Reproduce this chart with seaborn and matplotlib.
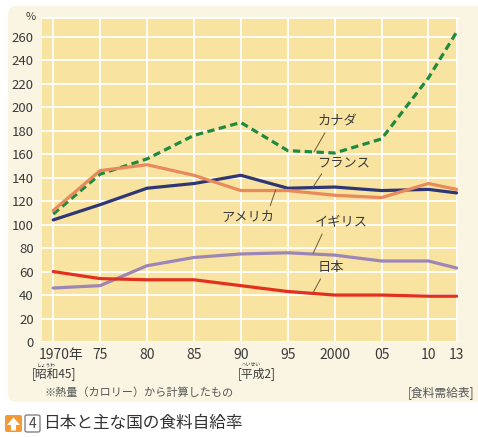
import pandas as pd
import matplotlib.pyplot as plt
import matplotlib.transforms as mtransforms
import seaborn as sns
from matplotlib.patches import FancyBboxPatch, Polygon

#data
years = [1970, 1975, 1980, 1985, 1990, 1995, 2000, 2005, 2010, 2013]
tick_labels = ['1970年', '75', '80', '85', '90', '95', '2000', '05', '10', '13']
canada = [109, 143, 156, 176, 187, 163, 161, 173, 225, 264]
france = [104, 117, 131, 135, 142, 131, 132, 129, 130, 127]
usa = [112, 146, 151, 142, 129, 129, 125, 123, 135, 130]
uk = [46, 48, 65, 72, 75, 76, 74, 69, 69, 63]
japan = [60, 54, 53, 53, 48, 43, 40, 40, 39, 39]
countries = ['カナダ', 'フランス', 'アメリカ', 'イギリス', '日本']
series = [canada, france, usa, uk, japan]

df = pd.DataFrame({
    'year': years * len(countries),
    'value': sum(series, []),
    'country': [c for c in countries for _ in years],
})

palette = {'カナダ': '#1f8a3e', 'フランス': '#2e3676', 'アメリカ': '#e98a5c',
           'イギリス': '#9c86b8', '日本': '#e2301f'}
dashes = {'カナダ': (2.3, 1.4), 'フランス': '', 'アメリカ': '',
          'イギリス': '', '日本': ''}

#style
sns.set_style('white', {'axes.facecolor': '#f8e3a0'})
plt.rcParams['font.family'] = ['Noto Sans CJK JP', 'DejaVu Sans']
text_col = '#3a3a3a'

W, H = 478, 437
fig = plt.figure(figsize=(W / 100, H / 100), dpi=100, facecolor='white')


def fx(px):
    return px / W


def fy(py):
    return 1 - py / H


#cream panel
panel = FancyBboxPatch((fx(8), fy(402)), 1.0, fy(6) - fy(402),
                       boxstyle='round,pad=0,rounding_size=0.02',
                       transform=fig.transFigure, facecolor='#faf5e3',
                       edgecolor='none', zorder=0)
fig.add_artist(panel)

ax = fig.add_axes([fx(42), fy(342), fx(458) - fx(42), fy(18) - fy(342)])
ax.set_axisbelow(True)

sns.lineplot(data=df, x='year', y='value', hue='country', style='country',
             hue_order=countries, style_order=countries, palette=palette,
             dashes=dashes, linewidth=2.3, legend=False, ax=ax)

ax.set_xlim(1968.8, 2013.15)
ax.set_ylim(0, 276)
ax.set_xticks(years, tick_labels)
ax.set_yticks(range(0, 261, 20))
ax.grid(True, color='white', linewidth=1.3)
for name, s in ax.spines.items():
    s.set_visible(name == 'top')
ax.spines['top'].set_color('white')
ax.spines['top'].set_linewidth(1.3)
ax.set_xlabel('')
ax.set_ylabel('')
ax.tick_params(axis='x', length=2.5, width=2.4, color='#222222', direction='inout',
               pad=3, labelsize=10, labelcolor=text_col)
ax.tick_params(axis='y', length=0, pad=6, labelsize=9.5, labelcolor=text_col)

first = ax.get_xticklabels()[0]
first.set_ha('left')
first.set_transform(first.get_transform() +
                    mtransforms.ScaledTranslation(-0.15, 0, fig.dpi_scale_trans))

#series labels with leader lines
labels = [
    ('カナダ', (1997.8, 162), (2000.3, 187.6), (0.25, 0)),
    ('フランス', (1997.7, 132), (2000.9, 152.6), (0.15, 0)),
    ('アメリカ', (1993.7, 129.5), (1990.7, 106.6), (0.9, 1)),
    ('イギリス', (1997.7, 75.5), (2000.7, 101.4), (0.18, 0)),
    ('日本', (1997.7, 42), (1999.6, 63.1), (0.2, 0)),
]
for name, xy, xytext, rel in labels:
    ax.annotate(name, xy=xy, xytext=xytext, ha='center', va='center',
                fontsize=9.5, color=text_col,
                arrowprops=dict(arrowstyle='-', color='#6b5a3a', lw=0.7,
                                relpos=rel, shrinkA=1, shrinkB=0))

#texts outside the axes
fig.text(fx(31), fy(17), '%', ha='center', va='center', fontsize=8, color=text_col)
fig.text(fx(32), fy(374), '[昭和45]', ha='left', va='center', fontsize=8.5, color=text_col)
fig.text(fx(46), fy(365), 'しょうわ', ha='center', va='center', fontsize=3.4, color=text_col)
fig.text(fx(238), fy(374), '[平成2]', ha='left', va='center', fontsize=8.5, color=text_col)
fig.text(fx(251), fy(365), 'へいせい', ha='center', va='center', fontsize=3.4, color=text_col)
fig.text(fx(44), fy(393), '※熱量（カロリー）から計算したもの', ha='left', va='center',
         fontsize=8, color='#555555')
fig.text(fx(474), fy(393), '[食料需給表]', ha='right', va='center',
         fontsize=8.5, color='#555555')

#caption
icon = FancyBboxPatch((fx(5), fy(432)), fx(17), fy(415) - fy(432),
                      boxstyle='round,pad=0,rounding_size=0.004',
                      transform=fig.transFigure, facecolor='#f29a33', edgecolor='none')
fig.add_artist(icon)
arrow = Polygon([(fx(7), fy(425)), (fx(13.5), fy(417.5)), (fx(20), fy(425)),
                 (fx(16), fy(425)), (fx(16), fy(430.5)), (fx(11), fy(430.5)),
                 (fx(11), fy(425))], closed=True, transform=fig.transFigure,
                facecolor='white', edgecolor='none')
fig.add_artist(arrow)
box = FancyBboxPatch((fx(25), fy(432)), fx(15), fy(415) - fy(432),
                     boxstyle='round,pad=0,rounding_size=0.004',
                     transform=fig.transFigure, facecolor='white',
                     edgecolor='#777777', lw=0.9)
fig.add_artist(box)
fig.text(fx(32.5), fy(423.5), '4', ha='center', va='center', fontsize=10, color='#444444')
fig.text(fx(43), fy(423.5), '日本と主な国の食料自給率', ha='left', va='center',
         fontsize=12, color='#333333')

fig.savefig('out.png', dpi=100, facecolor='white')
